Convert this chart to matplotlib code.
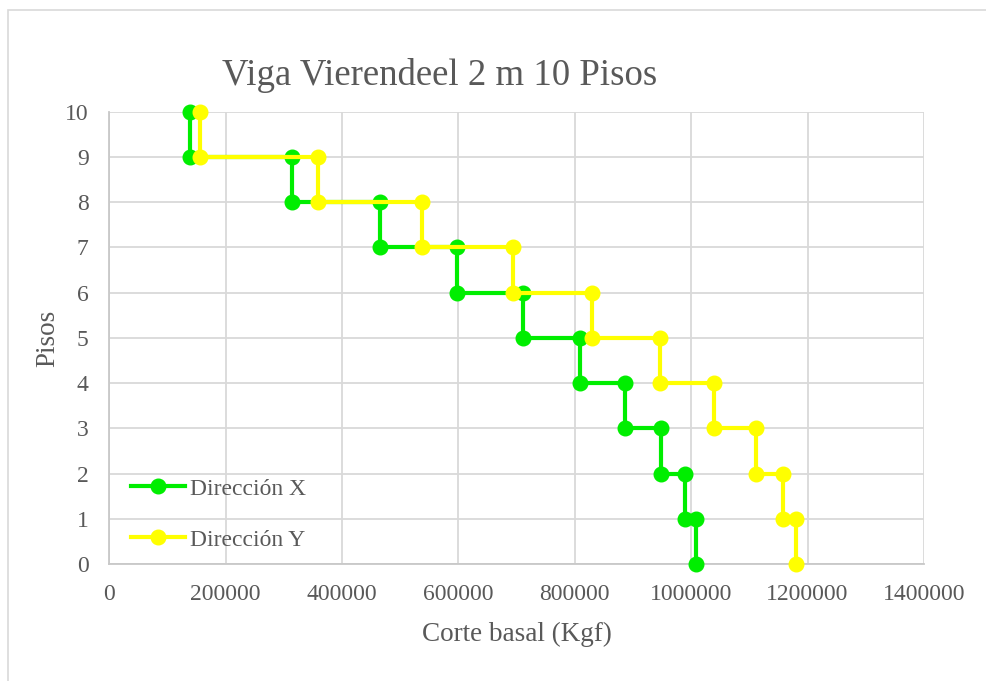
import matplotlib
matplotlib.use("Agg")
import matplotlib.pyplot as plt
from matplotlib.patches import Rectangle

# storey shear per floor, from the top floor (10) down to floor 1, in Kgf
pisos = [10, 9, 8, 7, 6, 5, 4, 3, 2, 1]
corte_x = [139000, 314000, 465000, 597000, 711000, 808000, 887000, 948000, 989000, 1009000]
corte_y = [156000, 359000, 537000, 694000, 830000, 946000, 1039000, 1111000, 1158000, 1180000]

x_ticks = [0, 200000, 400000, 600000, 800000, 1000000, 1200000, 1400000]
y_ticks = list(range(0, 11))

VERDE = "#00EE00"
AMARILLO = "#FFFF00"
GRIS_TEXTO = "#595959"
GRIS_REJILLA = "#D9D9D9"


def escalones(cortes, niveles):
    # each storey shear holds from its floor down to the floor below
    xs, ys = [], []
    for v, n in zip(cortes, niveles):
        xs += [v, v]
        ys += [n, n - 1]
    return xs, ys


plt.rcParams["font.family"] = ["Liberation Serif", "DejaVu Serif"]

fig = plt.figure(figsize=(9.86, 6.81), dpi=100)
fig.patches.append(Rectangle((8 / 986, -0.05), 1.1, 1 - 10 / 681 + 0.05,
                             transform=fig.transFigure, fill=False,
                             edgecolor="#D9D9D9", linewidth=1.2))

ax = fig.add_axes([0.1109, 0.1714, 0.8262, 0.6646])

for cortes, color, nombre in [(corte_x, VERDE, "Dirección X"),
                               (corte_y, AMARILLO, "Dirección Y")]:
    xs, ys = escalones(cortes, pisos)
    ax.plot(xs, ys, color=color, linewidth=3, marker="o", markersize=10.5,
            label=nombre, zorder=3, clip_on=False)

ax.set_xlim(0, 1400000)
ax.set_ylim(0, 10)
ax.set_xticks(x_ticks)
ax.set_yticks(y_ticks)
ax.set_xticklabels([str(t) for t in x_ticks])
ax.tick_params(length=0, labelsize=17, colors=GRIS_TEXTO, pad=14)
ax.tick_params(axis="y", pad=15)
ax.grid(True, color=GRIS_REJILLA, linewidth=1.3)
ax.set_axisbelow(True)
for lado in ["top", "right"]:
    ax.spines[lado].set_visible(False)
for lado in ["left", "bottom"]:
    ax.spines[lado].set_color("#C8C8C8")
    ax.spines[lado].set_linewidth(1.3)

ax.set_xlabel("Corte basal (Kgf)", fontsize=19.5, color=GRIS_TEXTO, labelpad=12.5)
ax.set_ylabel("Pisos", fontsize=19.5, color=GRIS_TEXTO, labelpad=3.5)
fig.text(0.446, 0.889, "Viga Vierendeel 2 m 10 Pisos", fontsize=26.5,
         color=GRIS_TEXTO, ha="center", va="center")

ax.legend(loc="lower left", bbox_to_anchor=(0.006, -0.0066), frameon=False,
          fontsize=17, labelcolor=GRIS_TEXTO, handlelength=2.3,
          handletextpad=0.2, labelspacing=1.25, borderaxespad=0.4,
          borderpad=0.3)

fig.savefig("out.png", dpi=100)
plt.close(fig)
